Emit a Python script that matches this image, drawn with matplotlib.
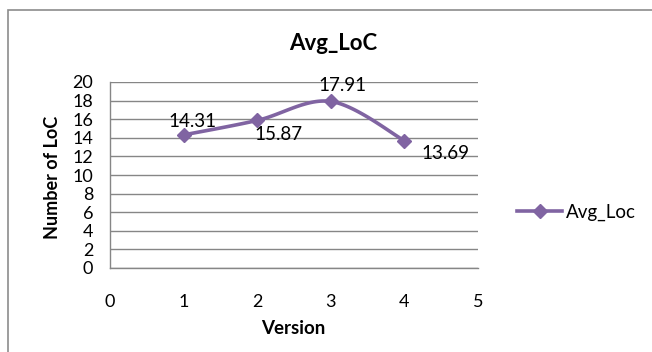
import numpy as np
import matplotlib
matplotlib.use("Agg")
import matplotlib.pyplot as plt
from matplotlib.patches import Rectangle
from matplotlib.lines import Line2D

versions = [1, 2, 3, 4]
avg_loc = [14.31, 15.87, 17.91, 13.69]
value_labels = ["14.31", "15.87", "17.91", "13.69"]
label_offsets_px = [(9, 13), (21, -14), (12, 16), (41, -13)]
x_ticks = [0, 1, 2, 3, 4, 5]
y_ticks = list(range(0, 21, 2))

LINE_COLOR = "#8064A2"
GRID_COLOR = "#868686"
FONT = "Lato"

plt.rcParams["font.family"] = [FONT, "DejaVu Sans"]


def smooth_curve(xs, ys, n=40):
    """Bezier smoothing through the points (control points at 1/6 of neighbour span)."""
    pts = np.column_stack([xs, ys]).astype(float)
    out = []
    for i in range(len(pts) - 1):
        p0 = pts[i - 1] if i > 0 else pts[i]
        p1 = pts[i]
        p2 = pts[i + 1]
        p3 = pts[i + 2] if i + 2 < len(pts) else pts[i + 1]
        c1 = p1 + (p2 - p0) / 6.0
        c2 = p2 - (p3 - p1) / 6.0
        t = np.linspace(0, 1, n)[:, None]
        seg = ((1 - t) ** 3) * p1 + 3 * ((1 - t) ** 2) * t * c1 + 3 * (1 - t) * t ** 2 * c2 + t ** 3 * p2
        out.append(seg if i == 0 else seg[1:])
    out = np.vstack(out)
    return out[:, 0], out[:, 1]


fig = plt.figure(figsize=(6.52, 3.52), dpi=100)
fig.patch.set_facecolor("white")

# chart-area frame
fig.patches.append(Rectangle((7.5 / 652, -0.1), 1.0, 1 - 10 / 352 + 0.1,
                             transform=fig.transFigure, fill=False,
                             edgecolor="#8c8c8c", linewidth=1.2))

ax = fig.add_axes([110 / 652, 1 - 268 / 352, (478 - 110) / 652, (268 - 82) / 352])
ax.set_xlim(0, 5)
ax.set_ylim(0, 20)
ax.set_xticks(x_ticks)
ax.set_yticks(y_ticks)
for s in ["top", "right"]:
    ax.spines[s].set_visible(False)
for s in ["left", "bottom"]:
    ax.spines[s].set_color(GRID_COLOR)
    ax.spines[s].set_linewidth(1.0)
ax.yaxis.grid(True, color=GRID_COLOR, linewidth=1.0)
ax.set_axisbelow(True)
ax.tick_params(length=0, labelsize=13, colors="black")
ax.tick_params(axis="x", pad=19)
ax.tick_params(axis="y", pad=12)

sx, sy = smooth_curve(versions, avg_loc)
ax.plot(sx, sy, color=LINE_COLOR, linewidth=2.6, solid_capstyle="round", zorder=3)
ax.plot(versions, avg_loc, linestyle="none", marker="D", markersize=7.5,
        color=LINE_COLOR, zorder=4)

for x, y, txt, off in zip(versions, avg_loc, value_labels, label_offsets_px):
    ax.annotate(txt, (x, y), xytext=off, textcoords="offset pixels",
                ha="center", va="center", fontsize=13.5, zorder=5)

fig.text(333 / 652, 1 - 43 / 352, "Avg_LoC", ha="center", va="center",
         fontsize=16, fontweight="bold")
fig.text(293 / 652, 1 - 328 / 352, "Version", ha="center", va="center",
         fontsize=13.5, fontweight="bold")
fig.text(52 / 652, 1 - 177 / 352, "Number of LoC", ha="center", va="center",
         fontsize=13, fontweight="bold", rotation=90)

handle = Line2D([], [], color=LINE_COLOR, linewidth=2.6, marker="D", markersize=7)
fig.legend([handle], ["Avg_Loc"], loc="center left",
           bbox_to_anchor=(508 / 652, 1 - 212 / 352), frameon=False,
           fontsize=13.5, handlelength=2.4, handletextpad=0.2, borderpad=0)

fig.savefig("out.png", dpi=100, facecolor="white")
